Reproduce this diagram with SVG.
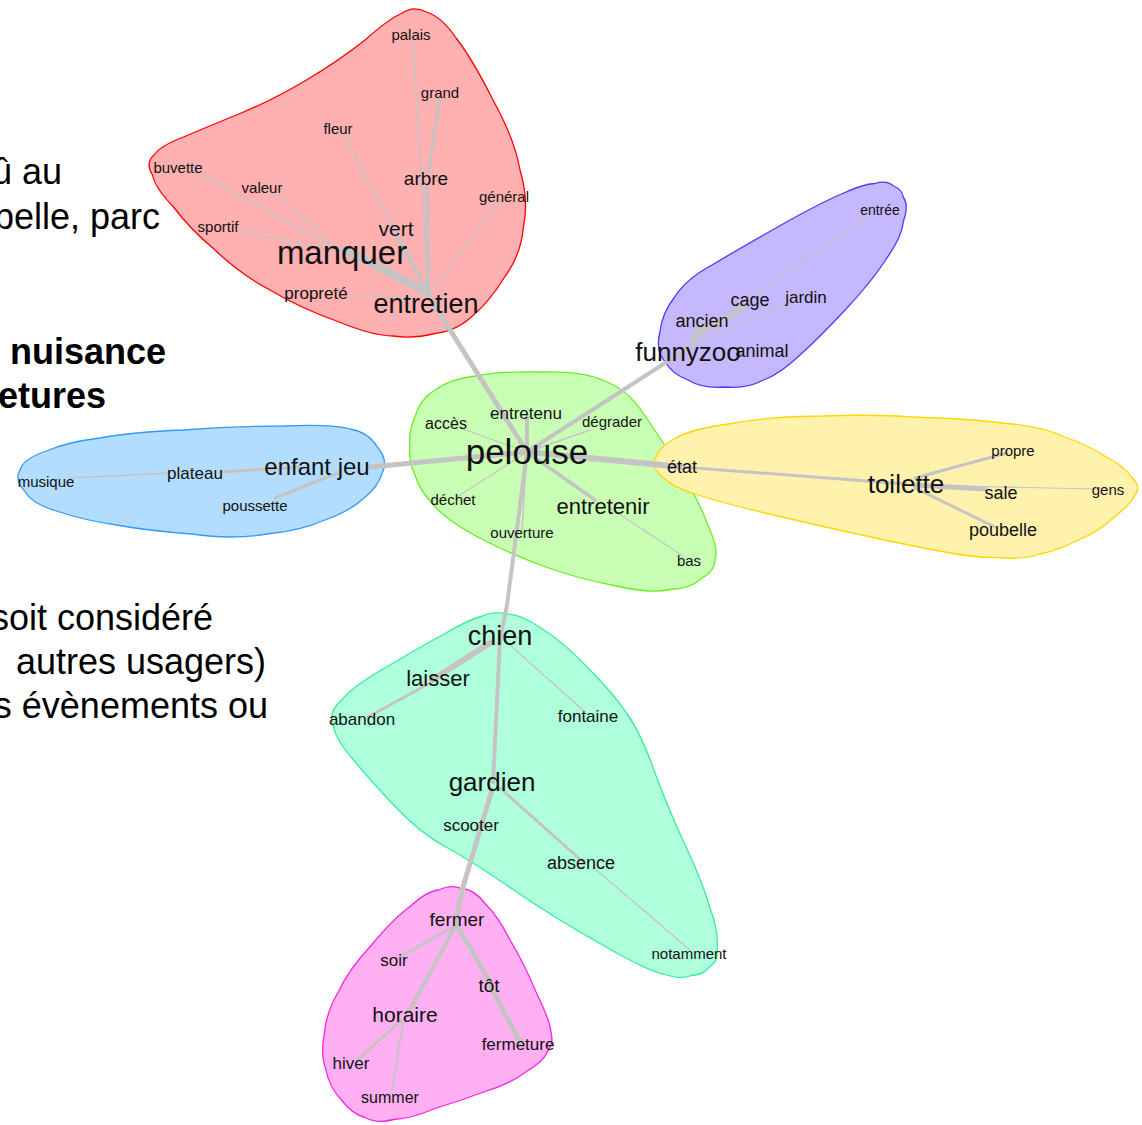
<svg xmlns="http://www.w3.org/2000/svg" width="1142" height="1125" viewBox="0 0 1142 1125">
<style>
.bg{font-family:"Liberation Sans",Arial,sans-serif;font-size:36px;fill:#000;text-anchor:end}
.bgb{font-weight:bold}
.hull{stroke-width:1.3}
.e{stroke:#c4c4c4;fill:none;stroke-linecap:round;stroke-linejoin:round}
text.l{font-family:"Liberation Sans",Arial,sans-serif;fill:#111;text-anchor:middle;dominant-baseline:central}
.s14{font-size:14px}.s15{font-size:15px}.s16{font-size:16px}.s17{font-size:17px}.s18{font-size:18px}.s19{font-size:19px}.s21{font-size:21px}.s22{font-size:22px}.s24{font-size:24px}.s26{font-size:26px}.s27{font-size:27px}.s33{font-size:33px}.s35{font-size:35px}
</style>
<g id="background-text">
<text class="bg" x="62" y="184">û au</text>
<text class="bg" x="160" y="229">belle, parc</text>
<text class="bg bgb" x="166" y="364">nuisance</text>
<text class="bg bgb" x="106" y="408">etures</text>
<text class="bg" x="213" y="630">soit considéré</text>
<text class="bg" x="266" y="674">autres usagers)</text>
<text class="bg" x="268" y="718">s évènements ou</text>
</g>
<g id="hulls">
<path id="hull-red" class="hull" fill="#ffb0b0" stroke="#ff0000" d="M401.5,13.5 Q413,5 426.5,12 Q442,17 456.5,38.5 Q473,60 493,100 Q515,140 520,170 Q529,200 523.5,226.5 Q521,255 505,276.5 Q490,301 473.5,315 Q457,331 435,333.5 Q413,339 393,336 Q373,336 336.5,321 Q300,308 270,290 Q240,274 215,250 Q189,228 173.5,207 Q155,188 152.5,175 Q145,163 154,155 Q160,146 183.5,137 Q207,127 240,113.5 Q273,100 306.5,80 Q340,60 365,40 Q390,18 401.5,13.5 Z"/>
<path id="hull-purple" class="hull" fill="#c6b8ff" stroke="#5a33ff" d="M875,183.5 Q887,180 893.5,186 Q902,189 903.5,197.5 Q909,205 903.5,221 Q902,237 886.5,258.5 Q873,280 846.5,308.5 Q820,337 800,355 Q780,374 763.5,380 Q747,389 725,387 Q703,389 688,380 Q672,374 665,361.5 Q655,351 660,331.5 Q662,313 675,296.5 Q686,279 712,265 Q737,250 778.5,226.5 Q820,203 841.5,194 Q863,184 875,183.5 Z"/>
<path id="hull-green" class="hull" fill="#c8ffb4" stroke="#66ee22" d="M475,376 Q500,371 541.5,372 Q583,371 605,381 Q628,390 643.5,413.5 Q660,437 680,470 Q700,503 708.5,526.5 Q719,550 715,560 Q715,571 701.5,578.5 Q690,589 670,589.5 Q650,594 616.5,586 Q583,580 550,568.5 Q517,557 483.5,540 Q450,523 435,506.5 Q419,490 415,475 Q408,460 410,446.5 Q408,433 415,416.5 Q420,399 435,390 Q450,379 475,376 Z"/>
<path id="hull-blue" class="hull" fill="#b3ddff" stroke="#3399ff" d="M25,491.5 Q14,480 20,470 Q23,459 45,451.5 Q67,442 100,438 Q133,432 183,430 Q233,426 283,426 Q333,424 350,429 Q368,432 377,446.5 Q389,460 382,473.5 Q378,487 363.5,498.5 Q350,511 325,520 Q300,531 266.5,534 Q233,540 191.5,534 Q150,531 116.5,525 Q83,520 58,511.5 Q32,504 25,491.5 Z"/>
<path id="hull-yellow" class="hull" fill="#fff2ad" stroke="#ffd700" d="M662.5,477 Q650,467 656,457 Q660,446 675,438.5 Q690,429 731.5,423.5 Q773,416 823,416 Q873,414 923,417.5 Q973,419 1006.5,423.5 Q1040,426 1065,437 Q1090,446 1106.5,457 Q1124,466 1131.5,477 Q1142,487 1135,495 Q1131,504 1115,516.5 Q1100,531 1078.5,540 Q1057,551 1040,554 Q1023,560 998,557.5 Q973,558 940,551 Q907,545 857,534 Q807,523 765,513 Q723,503 698,495 Q672,487 662.5,477 Z"/>
<path id="hull-cyan" class="hull" fill="#b0ffdc" stroke="#33ee99" d="M481.5,616.5 Q493,611 506.5,614 Q521,614 540,627.5 Q561,640 586.5,666.5 Q613,693 626.5,713 Q641,733 655,773 Q670,813 686.5,848 Q703,883 710,908 Q719,933 717,946.5 Q719,961 710,966.5 Q703,975 691.5,975.5 Q680,980 663.5,974 Q647,971 600,943.5 Q553,917 511.5,888.5 Q470,860 445,846.5 Q420,833 395,806.5 Q370,780 353.5,760 Q336,740 333.5,726.5 Q327,713 341.5,700 Q353,686 386.5,667 Q420,647 445,633.5 Q470,619 481.5,616.5 Z"/>
<path id="hull-pink" class="hull" fill="#ffb0f2" stroke="#ff22dd" d="M438.5,890 Q450,884 461.5,888.5 Q474,889 485,903.5 Q498,916 510,940 Q524,963 536.5,993 Q551,1023 551,1033 Q554,1043 547.5,1051.5 Q544,1061 526.5,1071.5 Q510,1084 485,1091.5 Q460,1101 435,1108.5 Q410,1119 393.5,1119.5 Q377,1124 365,1117.5 Q352,1114 341.5,1100 Q329,1087 326,1070 Q320,1053 324.5,1033 Q326,1013 338.5,991.5 Q349,969 371.5,945 Q393,919 410,906.5 Q427,891 438.5,890 Z"/>
</g>
<g id="connectors">
<line class="e" stroke-width="8" x1="345" y1="250" x2="427" y2="292"/>
<line class="e" stroke-width="4" x1="427" y1="185" x2="428" y2="292"/>
<line class="e" stroke-width="3" x1="440" y1="98" x2="428" y2="175"/>
<line class="e" stroke-width="1.5" x1="413" y1="40" x2="428" y2="292"/>
<line class="e" stroke-width="4" x1="395" y1="232" x2="428" y2="292"/>
<line class="e" stroke-width="1.5" x1="343" y1="133" x2="395" y2="232"/>
<line class="e" stroke-width="1.2" x1="503" y1="198" x2="430" y2="292"/>
<line class="e" stroke-width="1.5" x1="190" y1="168" x2="335" y2="248"/>
<line class="e" stroke-width="1.2" x1="272" y1="192" x2="340" y2="250"/>
<line class="e" stroke-width="1.5" x1="238" y1="230" x2="340" y2="252"/>
<line class="e" stroke-width="1.2" x1="345" y1="295" x2="420" y2="297"/>
<line class="e" stroke-width="5" x1="428" y1="295" x2="527" y2="452"/>
<line class="e" stroke-width="1.2" x1="870" y1="215" x2="697" y2="335"/>
<line class="e" stroke-width="5" x1="745" y1="307" x2="693" y2="338"/>
<line class="e" stroke-width="5" x1="702" y1="325" x2="693" y2="340"/>
<line class="e" stroke-width="1.2" x1="790" y1="303" x2="697" y2="343"/>
<line class="e" stroke-width="4" x1="693" y1="345" x2="527" y2="452"/>
<line class="e" stroke-width="1.2" x1="460" y1="428" x2="527" y2="452"/>
<line class="e" stroke-width="4" x1="527" y1="417" x2="527" y2="452"/>
<line class="e" stroke-width="1.5" x1="590" y1="430" x2="527" y2="452"/>
<line class="e" stroke-width="1.2" x1="457" y1="497" x2="527" y2="452"/>
<line class="e" stroke-width="3.5" x1="527" y1="452" x2="595" y2="500"/>
<line class="e" stroke-width="1.2" x1="610" y1="508" x2="683" y2="556"/>
<line class="e" stroke-width="1.5" x1="522" y1="530" x2="527" y2="452"/>
<line class="e" stroke-width="6" x1="527" y1="452" x2="682" y2="467"/>
<line class="e" stroke-width="5" x1="370" y1="467" x2="527" y2="452"/>
<polyline class="e" stroke-width="4" points="527,452 507,605 500,640 493,782"/>
<line class="e" stroke-width="3" x1="682" y1="467" x2="906" y2="484"/>
<line class="e" stroke-width="3" x1="915" y1="478" x2="1007" y2="453"/>
<line class="e" stroke-width="5" x1="915" y1="485" x2="985" y2="489"/>
<line class="e" stroke-width="1.2" x1="915" y1="485" x2="1095" y2="489"/>
<line class="e" stroke-width="3" x1="915" y1="488" x2="995" y2="527"/>
<line class="e" stroke-width="1.5" x1="70" y1="478" x2="170" y2="473"/>
<line class="e" stroke-width="3" x1="220" y1="472" x2="300" y2="467"/>
<line class="e" stroke-width="3" x1="275" y1="498" x2="340" y2="472"/>
<line class="e" stroke-width="6" x1="490" y1="643" x2="432" y2="680"/>
<line class="e" stroke-width="3" x1="430" y1="683" x2="368" y2="717"/>
<line class="e" stroke-width="1.2" x1="510" y1="645" x2="585" y2="712"/>
<line class="e" stroke-width="3" x1="500" y1="788" x2="583" y2="862"/>
<line class="e" stroke-width="1.2" x1="593" y1="867" x2="690" y2="950"/>
<polyline class="e" stroke-width="5" points="492,790 463,887 455,925"/>
<line class="e" stroke-width="3" x1="453" y1="927" x2="400" y2="957"/>
<line class="e" stroke-width="4" x1="455" y1="927" x2="407" y2="1015"/>
<line class="e" stroke-width="5" x1="458" y1="927" x2="490" y2="982"/>
<line class="e" stroke-width="5" x1="490" y1="985" x2="520" y2="1042"/>
<line class="e" stroke-width="3" x1="402" y1="1020" x2="357" y2="1060"/>
<line class="e" stroke-width="2" x1="403" y1="1022" x2="392" y2="1090"/>
</g>
<g id="cluster-red">
<g id="n-palais"><text class="l s15" x="411" y="34">palais</text></g>
<g id="n-grand"><text class="l s15" x="440" y="92">grand</text></g>
<g id="n-fleur"><text class="l s15" x="338" y="128">fleur</text></g>
<g id="n-buvette"><text class="l s15" x="178" y="167">buvette</text></g>
<g id="n-valeur"><text class="l s15" x="262" y="187">valeur</text></g>
<g id="n-arbre"><text class="l s19" x="426" y="178">arbre</text></g>
<g id="n-general"><text class="l s15" x="504" y="196">général</text></g>
<g id="n-sportif"><text class="l s15" x="218" y="226">sportif</text></g>
<g id="n-vert"><text class="l s21" x="396" y="228">vert</text></g>
<g id="n-manquer"><text class="l s33" x="342" y="252">manquer</text></g>
<g id="n-proprete"><text class="l s17" x="316" y="293">propreté</text></g>
<g id="n-entretien"><text class="l s27" x="426" y="304">entretien</text></g>
</g>
<g id="cluster-purple">
<g id="n-entree"><text class="l s14" x="880" y="210">entrée</text></g>
<g id="n-cage"><text class="l s18" x="750" y="300">cage</text></g>
<g id="n-jardin"><text class="l s17" x="806" y="297">jardin</text></g>
<g id="n-ancien"><text class="l s18" x="702" y="321">ancien</text></g>
<g id="n-animal"><text class="l s18" x="762" y="351">animal</text></g>
<g id="n-funnyzoo"><text class="l s26" x="688" y="352">funnyzoo</text></g>
</g>
<g id="cluster-green">
<g id="n-acces"><text class="l s16" x="446" y="423">accès</text></g>
<g id="n-entretenu"><text class="l s17" x="526" y="413">entretenu</text></g>
<g id="n-degrader"><text class="l s15" x="612" y="421">dégrader</text></g>
<g id="n-pelouse"><text class="l s35" x="527" y="451">pelouse</text></g>
<g id="n-dechet"><text class="l s15" x="453" y="499">déchet</text></g>
<g id="n-entretenir"><text class="l s22" x="603" y="506">entretenir</text></g>
<g id="n-ouverture"><text class="l s15" x="522" y="532">ouverture</text></g>
<g id="n-bas"><text class="l s15" x="689" y="560">bas</text></g>
</g>
<g id="cluster-yellow">
<g id="n-etat"><text class="l s18" x="682" y="467">état</text></g>
<g id="n-toilette"><text class="l s26" x="906" y="484">toilette</text></g>
<g id="n-propre"><text class="l s15" x="1013" y="450">propre</text></g>
<g id="n-sale"><text class="l s18" x="1001" y="493">sale</text></g>
<g id="n-gens"><text class="l s15" x="1108" y="489">gens</text></g>
<g id="n-poubelle"><text class="l s18" x="1003" y="530">poubelle</text></g>
</g>
<g id="cluster-blue">
<g id="n-musique"><text class="l s15" x="46" y="481">musique</text></g>
<g id="n-plateau"><text class="l s17" x="195" y="473">plateau</text></g>
<g id="n-enfantjeu"><text class="l s24" x="317" y="466">enfant jeu</text></g>
<g id="n-poussette"><text class="l s15" x="255" y="505">poussette</text></g>
</g>
<g id="cluster-cyan">
<g id="n-chien"><text class="l s27" x="500" y="636">chien</text></g>
<g id="n-laisser"><text class="l s22" x="438" y="678">laisser</text></g>
<g id="n-abandon"><text class="l s17" x="362" y="719">abandon</text></g>
<g id="n-fontaine"><text class="l s17" x="588" y="716">fontaine</text></g>
<g id="n-gardien"><text class="l s26" x="492" y="782">gardien</text></g>
<g id="n-scooter"><text class="l s17" x="471" y="825">scooter</text></g>
<g id="n-absence"><text class="l s18" x="581" y="863">absence</text></g>
<g id="n-notamment"><text class="l s15" x="689" y="953">notamment</text></g>
</g>
<g id="cluster-pink">
<g id="n-fermer"><text class="l s19" x="457" y="919">fermer</text></g>
<g id="n-soir"><text class="l s17" x="394" y="960">soir</text></g>
<g id="n-tot"><text class="l s19" x="489" y="985">tôt</text></g>
<g id="n-horaire"><text class="l s21" x="405" y="1014">horaire</text></g>
<g id="n-fermeture"><text class="l s17" x="518" y="1044">fermeture</text></g>
<g id="n-hiver"><text class="l s17" x="351" y="1063">hiver</text></g>
<g id="n-summer"><text class="l s16" x="390" y="1097">summer</text></g>
</g>
</svg>
